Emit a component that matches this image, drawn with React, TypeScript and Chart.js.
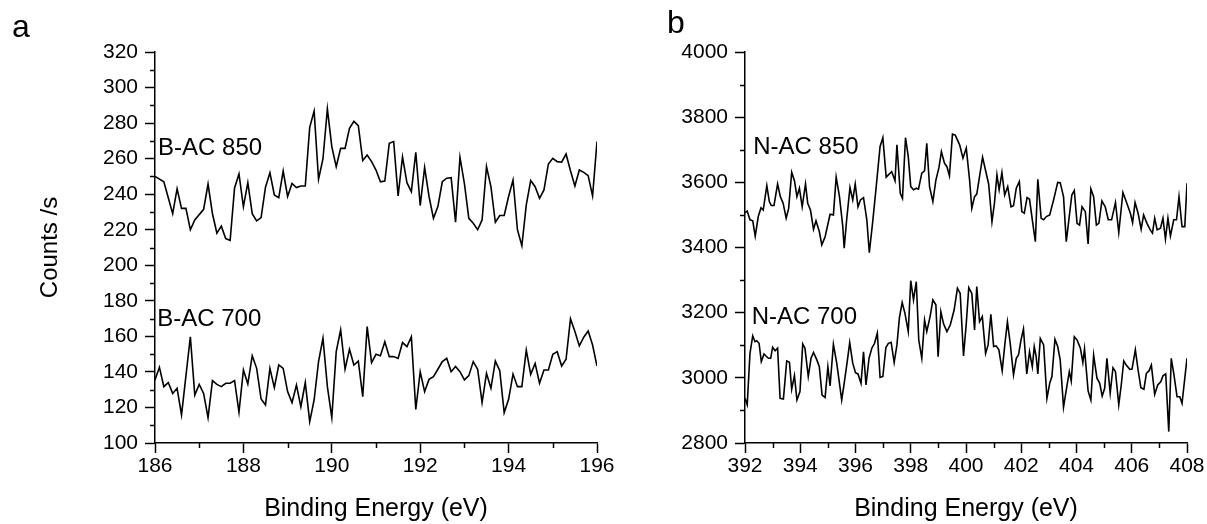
import { useEffect, useRef } from 'react';
import { Chart, registerables } from 'chart.js';

Chart.register(...registerables);

const FONT = "'Liberation Sans', Arial, Helvetica, sans-serif";

// ---------------- Panel a : B 1s ----------------
const bac850E = [186.0,186.2,186.4,186.5,186.6,186.7,186.8,186.9,187.1,187.2,187.3,187.4,187.5,187.6,187.7,187.8,187.9,188.0,188.1,188.2,188.3,188.4,188.5,188.6,188.7,188.8,188.9,189.0,189.1,189.2,189.3,189.4,189.5,189.6,189.7,189.8,189.9,190.0,190.1,190.2,190.3,190.4,190.5,190.6,190.7,190.8,190.9,191.0,191.1,191.2,191.3,191.4,191.5,191.6,191.7,191.8,191.9,192.0,192.1,192.2,192.3,192.4,192.5,192.6,192.7,192.8,192.9,193.0,193.1,193.2,193.3,193.4,193.5,193.6,193.7,193.8,193.9,194.0,194.1,194.2,194.3,194.4,194.5,194.6,194.7,194.8,194.9,195.0,195.1,195.2,195.3,195.4,195.5,195.6,195.7,195.8,195.9,196.0];
const bac850Y = [250,247,229,243,232,232,220,225.5,231.5,245.7,229,218,222,215,214,243.5,251.4,233,246.5,229,225,226.8,243.9,252,239.6,238,253,238.7,246,243.7,244.6,244.6,277.6,286.8,248.4,259.8,288,266.8,255.5,265.8,265.8,277,281,278.6,258.9,262,258.3,253.6,247,247.4,268.6,269.6,239,261,246.5,241.4,263.6,233.6,255,238.7,226.4,233,247,249,249.3,224.2,260.8,246,226.4,223.6,220,225.5,255.5,244.2,224.2,228,228,238.7,248,220,211,234,247.7,244.2,237.7,242.4,257,260.2,258.3,258,262.6,253.2,244.6,253.6,252.3,250.4,239,269.6];

const bac700E = [186.0,186.1,186.2,186.3,186.4,186.5,186.6,186.8,186.9,187.0,187.1,187.2,187.3,187.4,187.5,187.6,187.7,187.8,187.9,188.0,188.1,188.2,188.3,188.4,188.5,188.6,188.7,188.8,188.9,189.0,189.1,189.2,189.3,189.4,189.5,189.6,189.7,189.8,189.9,190.0,190.1,190.2,190.3,190.4,190.5,190.6,190.7,190.8,190.9,191.0,191.1,191.2,191.3,191.4,191.5,191.6,191.7,191.8,191.9,192.0,192.1,192.2,192.3,192.4,192.5,192.6,192.7,192.8,192.9,193.0,193.1,193.2,193.3,193.4,193.5,193.6,193.7,193.8,193.9,194.0,194.1,194.2,194.3,194.4,194.5,194.6,194.7,194.8,194.9,195.0,195.1,195.2,195.3,195.4,195.5,195.6,195.7,195.8,195.9,196.0];
const bac700Y = [135.5,142.6,131.7,134,127.9,130.8,115.8,159.8,127,133,127.9,114.3,135.1,133,131.7,133.6,133.6,135.1,117.3,141.1,133.2,149.1,142,124.8,121.4,142,131.1,143.9,142,128.9,122.7,132.6,120.4,134,112,124.2,145.8,158.9,131.7,114.3,151.4,163.6,141.5,152.7,143.9,146.1,126.1,165.5,145.2,149.9,149.1,157,148.6,148.6,147.6,156.5,154.2,159.8,118.9,140.1,128.9,135.8,137.3,141.5,145.8,147.6,140.1,143,140.1,135.5,137.9,145.8,141.5,122.7,139.2,130.8,146.1,140.7,117.1,124.6,138.8,131.7,131.7,152.3,138.6,144.8,133.6,141.1,141.1,149.9,151.4,143.3,147.1,169.8,162.7,154.6,159.5,163,155.1,143.3];

// ---------------- Panel b : N 1s ----------------
const nac850E = [392.00,392.08,392.18,392.28,392.37,392.48,392.58,392.66,392.79,392.88,392.95,393.05,393.18,393.28,393.38,393.49,393.58,393.69,393.79,393.88,393.97,394.07,394.19,394.27,394.37,394.48,394.57,394.69,394.78,394.90,395.08,395.20,395.30,395.42,395.54,395.59,395.68,395.80,395.90,395.99,396.09,396.18,396.29,396.41,396.50,396.63,396.75,396.89,396.99,397.11,397.19,397.31,397.43,397.50,397.62,397.70,397.81,397.91,398.00,398.10,398.20,398.28,398.40,398.50,398.58,398.68,398.80,398.91,399.02,399.11,399.22,399.31,399.40,399.51,399.61,399.77,399.89,400.01,400.13,400.21,400.31,400.39,400.60,400.82,400.94,401.03,401.12,401.20,401.30,401.40,401.51,401.63,401.72,401.82,401.93,402.02,402.11,402.21,402.30,402.45,402.51,402.60,402.72,402.81,402.91,403.03,403.17,403.32,403.41,403.53,403.63,403.83,403.92,404.02,404.11,404.20,404.32,404.42,404.52,404.62,404.72,404.81,404.92,405.04,405.15,405.27,405.41,405.53,405.68,405.80,405.95,406.03,406.12,406.23,406.34,406.43,406.55,406.67,406.75,406.83,406.92,407.04,407.13,407.22,407.31,407.40,407.52,407.62,407.71,407.82,407.92,408.00];
const nac850Y = [3507,3512,3485,3482,3435,3495,3522,3515,3590,3541,3529,3529,3595,3556,3536,3490,3520,3631,3605,3556,3582,3525,3595,3536,3515,3456,3482,3449,3408,3433,3502,3500,3616,3556,3464,3398,3485,3584,3546,3595,3525,3546,3553,3485,3384,3485,3587,3710,3737,3616,3623,3633,3605,3715,3566,3551,3737,3679,3587,3577,3582,3579,3628,3635,3720,3587,3541,3607,3645,3694,3659,3648,3620,3748,3745,3715,3674,3705,3607,3520,3556,3564,3677,3595,3479,3536,3623,3577,3630,3561,3587,3525,3528,3582,3602,3510,3505,3553,3548,3454,3418,3609,3490,3485,3495,3500,3546,3600,3599,3556,3418,3561,3575,3474,3469,3525,3510,3411,3580,3556,3469,3474,3543,3525,3485,3485,3538,3446,3569,3541,3505,3476,3538,3505,3456,3500,3474,3454,3444,3490,3454,3459,3490,3426,3490,3435,3485,3485,3556,3464,3464,3597];

const nac700E = [392.00,392.08,392.18,392.28,392.36,392.42,392.51,392.59,392.69,392.76,392.85,392.93,393.00,393.09,393.18,393.27,393.39,393.51,393.61,393.69,393.79,393.88,393.99,394.09,394.17,394.29,394.39,394.48,394.60,394.69,394.79,394.90,395.00,395.08,395.20,395.32,395.42,395.50,395.59,395.70,395.79,395.90,396.00,396.09,396.20,396.29,396.38,396.49,396.59,396.69,396.79,396.89,396.99,397.10,397.19,397.29,397.40,397.50,397.59,397.69,397.79,397.91,398.00,398.10,398.20,398.29,398.40,398.50,398.58,398.70,398.80,398.91,398.99,399.09,399.19,399.31,399.43,399.57,399.69,399.79,399.91,400.01,400.10,400.21,400.31,400.39,400.49,400.59,400.71,400.80,400.90,401.00,401.09,401.19,401.31,401.41,401.50,401.60,401.72,401.82,401.90,401.99,402.08,402.20,402.30,402.40,402.47,402.54,402.60,402.69,402.81,402.93,403.03,403.11,403.22,403.32,403.41,403.53,403.63,403.74,403.81,403.92,404.02,404.14,404.23,404.29,404.42,404.52,404.62,404.74,404.84,404.93,405.02,405.10,405.22,405.32,405.41,405.53,405.62,405.71,405.80,405.93,406.01,406.13,406.23,406.33,406.44,406.53,406.63,406.71,406.83,406.94,407.05,407.13,407.23,407.34,407.43,407.52,407.64,407.74,407.82,408.00];
const nac700Y = [2937,2917,3075,3129,3111,3114,3106,3050,3073,3067,3060,3060,3094,3083,3091,2937,2935,3052,3048,2965,3007,2932,2958,3104,3091,3004,3060,3078,3055,3034,2947,2940,3034,2975,3103,3045,2983,2932,2983,3050,3108,3045,3016,3012,2983,3080,2978,3060,3091,3106,3137,3001,3004,3093,3106,3109,3047,3101,3185,3231,3198,3142,3298,3239,3295,3116,3060,3178,3142,3188,3239,3224,3065,3203,3165,3142,3162,3208,3275,3259,3067,3167,3277,3259,3147,3280,3172,3188,3075,3101,3195,3096,3098,3086,3022,3106,3172,3106,3009,3060,3070,3116,3150,3012,3080,3034,3096,3065,3012,3121,3101,2937,2983,3004,3118,3096,3055,2910,2963,3019,2990,3126,3116,3091,3047,3089,2960,2932,3070,2999,2983,2944,2968,3060,2953,3031,3019,2917,2978,3052,3039,3026,3027,3086,3024,2970,2965,3014,3022,3039,2949,2978,2988,3006,3012,2835,3060,3014,2942,2942,2922,3060];

// axis ranges and tick steps
const xRangeA = [186, 196];
const yRangeA = [100, 320];
const xRangeB = [392, 408];
const yRangeB = [2800, 4000];
const xMinorA = [187, 189, 191, 193, 195];
const yMinorA = [110, 130, 150, 170, 190, 210, 230, 250, 270, 290, 310];
const xMinorB = [393, 395, 397, 399, 401, 403, 405, 407];
const yMinorB = [2900, 3100, 3300, 3500, 3700, 3900];

const seriesLabelsA = ['B-AC 850', 'B-AC 700'];
const seriesLabelsB = ['N-AC 850', 'N-AC 700'];

const toPts = (xs: number[], ys: number[]) => xs.map((x, i) => ({ x, y: ys[i] }));

const minorTicksPlugin = {
  id: 'minorTicks',
  afterDraw(chart: any, _args: any, opts: any) {
    const { ctx } = chart;
    const xs = chart.scales.x;
    const ys = chart.scales.y;
    ctx.save();
    ctx.strokeStyle = '#000';
    ctx.lineWidth = 1.5;
    ctx.beginPath();
    (opts.x || []).forEach((v: number) => {
      const px = Math.round(xs.getPixelForValue(v)) + 0.5;
      ctx.moveTo(px, xs.top);
      ctx.lineTo(px, xs.top + 5);
    });
    (opts.y || []).forEach((v: number) => {
      const py = Math.round(ys.getPixelForValue(v)) + 0.5;
      ctx.moveTo(ys.right, py);
      ctx.lineTo(ys.right - 5, py);
    });
    ctx.stroke();
    ctx.restore();
  },
};

const textPlugin = {
  id: 'panelText',
  afterDraw(chart: any, _args: any, opts: any) {
    const { ctx } = chart;
    const xs = chart.scales.x;
    const ys = chart.scales.y;
    ctx.save();
    ctx.fillStyle = '#000';
    ctx.font = `32px ${FONT}`;
    ctx.textAlign = 'left';
    ctx.textBaseline = 'alphabetic';
    ctx.fillText(opts.letter, opts.letterX, opts.letterY);
    ctx.font = `24px ${FONT}`;
    ctx.textBaseline = 'middle';
    (opts.labels || []).forEach((l: any) => {
      ctx.fillText(l.text, xs.getPixelForValue(l.x), ys.getPixelForValue(l.y));
    });
    ctx.restore();
  },
};

function buildConfig(p: any) {
  return {
    type: 'line',
    data: {
      datasets: p.series.map((s: any) => ({
        label: s.label,
        data: s.data,
        borderColor: '#000',
        borderWidth: 1.6,
        pointRadius: 0,
        tension: 0,
        fill: false,
      })),
    },
    options: {
      responsive: false,
      animation: false,
      parsing: true,
      layout: { padding: { left: 0, top: 52, right: p.padRight, bottom: 0 } },
      plugins: {
        legend: { display: false },
        tooltip: { enabled: false },
        minorTicks: { x: p.xMinor, y: p.yMinor },
        panelText: { letter: p.letter, letterX: p.letterX, letterY: p.letterY, labels: p.labels },
      },
      scales: {
        x: {
          type: 'linear',
          min: p.xRange[0],
          max: p.xRange[1],
          afterFit: (s: any) => { s.height = 81; },
          border: { display: true, color: '#000', width: 1.5 },
          grid: { display: true, drawOnChartArea: false, drawTicks: true, tickLength: 10, tickColor: '#000', tickWidth: 1.5 },
          ticks: {
            stepSize: 2,
            color: '#000',
            padding: 1,
            maxRotation: 0,
            font: { family: FONT, size: 21 },
            callback: (v: any) => String(v),
          },
          title: {
            display: true,
            text: 'Binding Energy (eV)',
            color: '#000',
            font: { family: FONT, size: 25 },
            padding: { top: 0, bottom: 0 },
          },
        },
        y: {
          type: 'linear',
          min: p.yRange[0],
          max: p.yRange[1],
          afterFit: (s: any) => { s.width = p.yWidth; },
          border: { display: true, color: '#000', width: 1.5 },
          grid: { display: true, drawOnChartArea: false, drawTicks: true, tickLength: 10, tickColor: '#000', tickWidth: 1.5 },
          ticks: {
            stepSize: p.yStep,
            color: '#000',
            padding: 7,
            font: { family: FONT, size: 21 },
            callback: (v: any) => String(v),
          },
          title: {
            display: !!p.yTitle,
            text: p.yTitle || '',
            color: '#000',
            font: { family: FONT, size: 24 },
            padding: { top: 36, bottom: 0 },
          },
        },
      },
    },
    plugins: [minorTicksPlugin, textPlugin],
  };
}

function Panel({ left, width, params }: { left: number; width: number; params: any }) {
  const ref = useRef<HTMLCanvasElement | null>(null);
  useEffect(() => {
    if (!ref.current) return;
    const chart = new Chart(ref.current, buildConfig(params) as any);
    return () => chart.destroy();
  }, []);
  return (
    <canvas
      ref={ref}
      width={width}
      height={524}
      style={{ position: 'absolute', left, top: 0, width, height: 524 }}
    />
  );
}

const paramsA = {
  series: [
    { label: seriesLabelsA[0], data: toPts(bac850E, bac850Y) },
    { label: seriesLabelsA[1], data: toPts(bac700E, bac700Y) },
  ],
  xRange: xRangeA,
  yRange: yRangeA,
  yStep: 20,
  xMinor: xMinorA,
  yMinor: yMinorA,
  yWidth: 155,
  padRight: 23,
  yTitle: 'Counts /s',
  letter: 'a',
  letterX: 12,
  letterY: 37,
  labels: [
    { text: seriesLabelsA[0], x: 186.07, y: 265.7 },
    { text: seriesLabelsA[1], x: 186.05, y: 169.8 },
  ],
};

const paramsB = {
  series: [
    { label: seriesLabelsB[0], data: toPts(nac850E, nac850Y) },
    { label: seriesLabelsB[1], data: toPts(nac700E, nac700Y) },
  ],
  xRange: xRangeB,
  yRange: yRangeB,
  yStep: 200,
  xMinor: xMinorB,
  yMinor: yMinorB,
  yWidth: 125,
  padRight: 20,
  yTitle: '',
  letter: 'b',
  letterX: 47,
  letterY: 33,
  labels: [
    { text: seriesLabelsB[0], x: 392.3, y: 3707 },
    { text: seriesLabelsB[1], x: 392.24, y: 3185 },
  ],
};

export default function App() {
  return (
    <div style={{ position: 'absolute', left: 0, top: 0, width: 1207, height: 524, background: '#fff' }}>
      <Panel left={0} width={620} params={paramsA} />
      <Panel left={620} width={587} params={paramsB} />
    </div>
  );
}
